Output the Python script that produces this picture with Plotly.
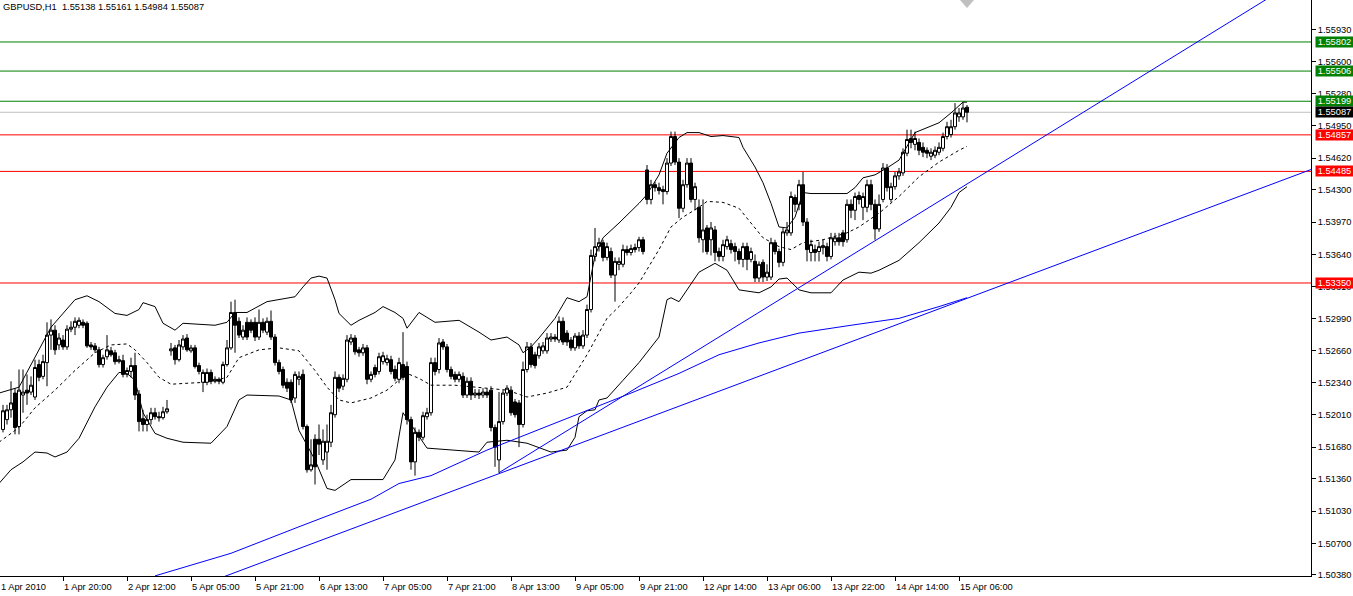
import plotly.graph_objects as go

symbol = "GBPUSD,H1"

# ---- hourly OHLC, one entry per bar (bar index 0 = first visible bar) ----
open_ = [1.5186,1.5196,1.5206,1.5223,1.5189,1.5221,1.5226,1.5224,1.5219,1.5252,
1.5240,1.5254,1.5282,1.5287,1.5272,1.5277,1.5270,1.5288,1.5290,1.5292,
1.5295,1.5294,1.5272,1.5271,1.5267,1.5252,1.5260,1.5266,1.5264,1.5255,
1.5256,1.5242,1.5245,1.5251,1.5222,1.5197,1.5191,1.5196,1.5203,1.5199,
1.5198,1.5204,1.5266,1.5269,1.5257,1.5270,1.5279,1.5266,1.5269,1.5251,
1.5234,1.5234,1.5244,1.5235,1.5237,1.5234,1.5252,1.5269,1.5305,1.5296,
1.5280,1.5295,1.5295,1.5295,1.5280,1.5295,1.5285,1.5296,1.5280,1.5254,
1.5247,1.5234,1.5234,1.5218,1.5237,1.5242,1.5189,1.5145,1.5176,1.5176,
1.5155,1.5163,1.5173,1.5201,1.5239,1.5230,1.5237,1.5275,1.5279,1.5267,
1.5264,1.5269,1.5237,1.5249,1.5245,1.5255,1.5254,1.5257,1.5247,1.5237,
1.5252,1.5250,1.5196,1.5153,1.5183,1.5178,1.5199,1.5203,1.5254,1.5247,
1.5275,1.5270,1.5247,1.5242,1.5237,1.5240,1.5221,1.5235,1.5221,1.5223,
1.5221,1.5224,1.5226,1.5188,1.5155,1.5194,1.5223,1.5226,1.5214,1.5213,
1.5191,1.5247,1.5270,1.5262,1.5261,1.5266,1.5266,1.5278,1.5280,1.5277,
1.5296,1.5284,1.5277,1.5269,1.5281,1.5271,1.5282,1.5308,1.5362,1.5372,
1.5376,1.5361,1.5367,1.5343,1.5354,1.5354,1.5369,1.5366,1.5371,1.5371,
1.5379,1.5450,1.5420,1.5435,1.5432,1.5430,1.5428,1.5457,1.5484,1.5458,
1.5411,1.5435,1.5457,1.5420,1.5412,1.5379,1.5391,1.5379,1.5389,1.5367,
1.5362,1.5372,1.5375,1.5372,1.5367,1.5359,1.5372,1.5359,1.5357,1.5340,
1.5356,1.5341,1.5341,1.5376,1.5367,1.5356,1.5386,1.5386,1.5422,1.5415,
1.5435,1.5397,1.5366,1.5369,1.5367,1.5371,1.5372,1.5362,1.5377,1.5381,
1.5386,1.5379,1.5415,1.5409,1.5424,1.5412,1.5412,1.5435,1.5415,1.5390,
1.5420,1.5452,1.5420,1.5433,1.5444,1.5447,1.5467,1.5482,1.5476,1.5478,
1.5473,1.5470,1.5464,1.5465,1.5468,1.5472,1.5484,1.5486,1.5494,1.5504,
1.5504,1.55138]
high = [1.5211,1.5211,1.5235,1.5228,1.5247,1.5247,1.5242,1.5240,1.5257,1.5257,
1.5262,1.5295,1.5298,1.5292,1.5284,1.5282,1.5292,1.5296,1.5300,1.5300,
1.5298,1.5296,1.5275,1.5274,1.5270,1.5262,1.5282,1.5270,1.5267,1.5261,
1.5262,1.5249,1.5259,1.5264,1.5226,1.5206,1.5201,1.5208,1.5208,1.5204,
1.5209,1.5216,1.5274,1.5272,1.5277,1.5282,1.5283,1.5272,1.5272,1.5254,
1.5247,1.5248,1.5247,1.5240,1.5239,1.5255,1.5277,1.5316,1.5318,1.5300,
1.5292,1.5300,1.5298,1.5300,1.5308,1.5299,1.5300,1.5307,1.5283,1.5257,
1.5250,1.5238,1.5237,1.5245,1.5245,1.5247,1.5191,1.5176,1.5181,1.5191,
1.5186,1.5191,1.5211,1.5245,1.5242,1.5242,1.5282,1.5283,1.5282,1.5270,
1.5273,1.5272,1.5245,1.5252,1.5264,1.5265,1.5262,1.5261,1.5251,1.5259,
1.5285,1.5255,1.5199,1.5188,1.5186,1.5204,1.5208,1.5259,1.5259,1.5279,
1.5278,1.5273,1.5250,1.5245,1.5245,1.5244,1.5239,1.5239,1.5227,1.5227,
1.5228,1.5228,1.5230,1.5191,1.5224,1.5226,1.5231,1.5230,1.5217,1.5216,
1.5255,1.5275,1.5274,1.5265,1.5274,1.5275,1.5284,1.5284,1.5283,1.5301,
1.5300,1.5287,1.5280,1.5284,1.5285,1.5287,1.5313,1.5369,1.5391,1.5381,
1.5379,1.5376,1.5371,1.5361,1.5361,1.5374,1.5373,1.5374,1.5375,1.5382,
1.5382,1.5455,1.5440,1.5438,1.5437,1.5434,1.5462,1.5489,1.5489,1.5462,
1.5440,1.5462,1.5462,1.5437,1.5420,1.5420,1.5394,1.5397,1.5393,1.5371,
1.5379,1.5383,1.5379,1.5376,1.5370,1.5376,1.5376,1.5371,1.5364,1.5357,
1.5359,1.5354,1.5381,1.5379,1.5370,1.5391,1.5397,1.5428,1.5425,1.5440,
1.5448,1.5401,1.5379,1.5374,1.5377,1.5379,1.5376,1.5386,1.5386,1.5386,
1.5389,1.5420,1.5420,1.5427,1.5428,1.5427,1.5440,1.5440,1.5420,1.5425,
1.5457,1.5456,1.5437,1.5448,1.5452,1.5472,1.5491,1.5491,1.5489,1.5482,
1.5478,1.5473,1.5472,1.5474,1.5478,1.5488,1.5499,1.5501,1.5518,1.5513,
1.5519,1.55161]
low = [1.5183,1.5191,1.5198,1.5181,1.5181,1.5203,1.5211,1.5221,1.5216,1.5235,
1.5237,1.5230,1.5267,1.5262,1.5267,1.5267,1.5267,1.5285,1.5282,1.5289,
1.5289,1.5269,1.5267,1.5264,1.5249,1.5249,1.5257,1.5260,1.5252,1.5253,
1.5239,1.5239,1.5239,1.5216,1.5184,1.5184,1.5184,1.5191,1.5196,1.5194,
1.5196,1.5202,1.5261,1.5252,1.5255,1.5267,1.5265,1.5264,1.5248,1.5242,
1.5224,1.5231,1.5232,1.5233,1.5232,1.5232,1.5250,1.5267,1.5264,1.5279,
1.5277,1.5277,1.5284,1.5276,1.5277,1.5284,1.5282,1.5277,1.5251,1.5242,
1.5228,1.5224,1.5213,1.5213,1.5231,1.5186,1.5142,1.5143,1.5130,1.5160,
1.5150,1.5145,1.5168,1.5198,1.5224,1.5226,1.5234,1.5272,1.5262,1.5260,
1.5261,1.5232,1.5234,1.5239,1.5242,1.5252,1.5251,1.5242,1.5235,1.5233,
1.5236,1.5191,1.5145,1.5139,1.5174,1.5175,1.5196,1.5200,1.5241,1.5243,
1.5267,1.5244,1.5237,1.5234,1.5234,1.5218,1.5218,1.5216,1.5218,1.5217,
1.5218,1.5218,1.5184,1.5148,1.5142,1.5191,1.5220,1.5200,1.5198,1.5168,
1.5188,1.5244,1.5249,1.5248,1.5258,1.5263,1.5263,1.5275,1.5275,1.5274,
1.5272,1.5271,1.5266,1.5266,1.5268,1.5268,1.5279,1.5305,1.5357,1.5367,
1.5357,1.5358,1.5340,1.5316,1.5348,1.5351,1.5363,1.5363,1.5366,1.5367,
1.5364,1.5415,1.5415,1.5428,1.5425,1.5415,1.5425,1.5454,1.5455,1.5401,
1.5407,1.5432,1.5417,1.5409,1.5376,1.5366,1.5364,1.5363,1.5357,1.5357,
1.5357,1.5369,1.5365,1.5357,1.5354,1.5351,1.5348,1.5356,1.5336,1.5336,
1.5336,1.5337,1.5338,1.5364,1.5351,1.5352,1.5383,1.5383,1.5407,1.5409,
1.5393,1.5357,1.5357,1.5357,1.5357,1.5364,1.5357,1.5359,1.5373,1.5373,
1.5372,1.5376,1.5401,1.5399,1.5415,1.5399,1.5407,1.5409,1.5379,1.5387,
1.5417,1.5428,1.5417,1.5430,1.5440,1.5444,1.5464,1.5472,1.5470,1.5465,
1.5463,1.5462,1.5460,1.5462,1.5465,1.5469,1.5481,1.5483,1.5491,1.5499,
1.5501,1.54984]
close = [1.5205,1.5206,1.5213,1.5188,1.5226,1.5224,1.5223,1.5231,1.5249,1.5239,
1.5255,1.5282,1.5287,1.5267,1.5279,1.5270,1.5288,1.5290,1.5296,1.5297,
1.5292,1.5271,1.5270,1.5267,1.5252,1.5259,1.5267,1.5262,1.5255,1.5257,
1.5242,1.5246,1.5251,1.5221,1.5194,1.5191,1.5196,1.5203,1.5199,1.5198,
1.5204,1.5207,1.5268,1.5257,1.5272,1.5278,1.5267,1.5269,1.5250,1.5245,
1.5244,1.5244,1.5235,1.5237,1.5235,1.5252,1.5269,1.5305,1.5292,1.5282,
1.5287,1.5280,1.5287,1.5280,1.5295,1.5287,1.5296,1.5280,1.5254,1.5245,
1.5231,1.5228,1.5216,1.5242,1.5240,1.5189,1.5145,1.5150,1.5148,1.5171,
1.5174,1.5174,1.5203,1.5239,1.5228,1.5238,1.5277,1.5279,1.5265,1.5264,
1.5269,1.5237,1.5242,1.5242,1.5260,1.5261,1.5258,1.5245,1.5238,1.5254,
1.5239,1.5196,1.5153,1.5183,1.5178,1.5200,1.5203,1.5254,1.5245,1.5274,
1.5270,1.5247,1.5240,1.5237,1.5242,1.5221,1.5235,1.5221,1.5223,1.5221,
1.5224,1.5221,1.5188,1.5168,1.5194,1.5223,1.5228,1.5203,1.5201,1.5191,
1.5247,1.5270,1.5252,1.5251,1.5270,1.5271,1.5279,1.5280,1.5278,1.5296,
1.5275,1.5275,1.5269,1.5281,1.5271,1.5282,1.5308,1.5363,1.5372,1.5376,
1.5361,1.5372,1.5343,1.5357,1.5357,1.5369,1.5366,1.5370,1.5369,1.5379,
1.5367,1.5420,1.5435,1.5432,1.5429,1.5428,1.5457,1.5484,1.5458,1.5411,
1.5435,1.5457,1.5420,1.5433,1.5381,1.5389,1.5367,1.5391,1.5366,1.5362,
1.5374,1.5379,1.5369,1.5367,1.5359,1.5372,1.5359,1.5367,1.5340,1.5354,
1.5341,1.5346,1.5376,1.5367,1.5356,1.5387,1.5389,1.5423,1.5415,1.5435,
1.5397,1.5369,1.5374,1.5366,1.5372,1.5373,1.5362,1.5381,1.5381,1.5377,
1.5377,1.5415,1.5409,1.5423,1.5420,1.5423,1.5435,1.5415,1.5390,1.5415,
1.5452,1.5432,1.5433,1.5444,1.5448,1.5468,1.5481,1.5478,1.5482,1.5470,
1.5468,1.5467,1.5468,1.5470,1.5473,1.5484,1.5494,1.5494,1.5508,1.5508,
1.5513,1.55087]

# ---- Bollinger bands, read at sample bars ----
upper_bar = [-1,4,12,18,21,24,28,31,34,35,38,40,43,45,53,56,58,61,66,73,75,77,79,81,83,84,87,89,93,95,98,100,101,104,108,114,119,122,126,129,130,132,134,138,141,144,146,148,150,154,159,161,164,166,169,171,174,177,180,184,185,188,190,192,194,196,198,200,202,211,213,215,218,221,224,228,231,234,237,240,241]
upper_val = [1.5223,1.5229,1.5290,1.5318,1.5322,1.5316,1.5304,1.5302,1.5308,1.5315,1.5311,1.5294,1.5287,1.5294,1.5292,1.5295,1.5305,1.5305,1.5316,1.5321,1.5331,1.5340,1.5342,1.5340,1.5318,1.5304,1.5292,1.5297,1.5305,1.5311,1.5305,1.5299,1.5289,1.5305,1.5295,1.5297,1.5285,1.5277,1.5280,1.5272,1.5264,1.5270,1.5279,1.5299,1.5320,1.5316,1.5321,1.5363,1.5381,1.5396,1.5416,1.5425,1.5445,1.5467,1.5483,1.5488,1.5488,1.5484,1.5485,1.5483,1.5473,1.5453,1.5437,1.5416,1.5392,1.5391,1.5402,1.5427,1.5426,1.5426,1.5432,1.5442,1.5445,1.5452,1.5460,1.5488,1.5493,1.5498,1.5508,1.5519,1.5519]
middle_bar = [-1,4,8,13,18,23,27,31,33,36,39,42,46,51,56,59,64,69,74,78,81,84,87,92,96,101,104,107,113,119,126,131,136,141,146,151,154,157,159,164,167,170,174,176,180,184,187,190,194,197,200,205,211,214,219,224,229,234,239,241]
middle_val = [1.5173,1.5188,1.5208,1.5226,1.5246,1.5264,1.5272,1.5273,1.5267,1.5254,1.5239,1.5232,1.5233,1.5234,1.5239,1.5259,1.5267,1.5269,1.5266,1.5246,1.5229,1.5216,1.5213,1.5218,1.5226,1.5243,1.5238,1.5231,1.5231,1.5229,1.5226,1.5219,1.5223,1.5229,1.5262,1.5299,1.5311,1.5325,1.5335,1.5369,1.5392,1.5402,1.5412,1.5418,1.5417,1.5411,1.5396,1.5381,1.5372,1.5369,1.5376,1.5379,1.5386,1.5392,1.5406,1.5423,1.5443,1.5458,1.5470,1.5474]
lower_bar = [-1,2,5,8,11,13,16,19,23,26,29,31,33,35,38,41,45,52,56,59,61,69,72,74,78,81,83,87,95,98,100,102,106,119,121,126,131,137,141,143,144,146,148,149,151,155,159,164,166,167,169,174,178,181,184,189,192,194,196,199,202,207,210,214,217,219,224,229,234,237,239,241]
lower_val = [1.5131,1.5145,1.5153,1.5163,1.5162,1.5158,1.5163,1.5177,1.5209,1.5229,1.5244,1.5243,1.5236,1.5203,1.5182,1.5177,1.5173,1.5172,1.5189,1.5216,1.5221,1.5220,1.5216,1.5185,1.5155,1.5126,1.5124,1.5135,1.5135,1.5155,1.5203,1.5191,1.5167,1.5163,1.5173,1.5175,1.5172,1.5163,1.5165,1.5178,1.5199,1.5205,1.5206,1.5216,1.5218,1.5236,1.5254,1.5280,1.5318,1.5320,1.5316,1.5346,1.5355,1.5348,1.5328,1.5325,1.5331,1.5339,1.5340,1.5328,1.5325,1.5325,1.5338,1.5346,1.5345,1.5348,1.5358,1.5376,1.5396,1.5412,1.5427,1.5433]

# ---- long moving average (blue) ----
ma_bar = [38,57,74,92,99,107,121,134,145,157,169,179,189,199,212,224,234,241]
ma_val = [1.5037,1.5060,1.5087,1.5115,1.5131,1.5139,1.5165,1.5186,1.5203,1.5223,1.5243,1.5262,1.5274,1.5284,1.5292,1.5299,1.5311,1.5320]

# ---- trendlines (two anchors each) ----
trend_a_bar = [124, 320]
trend_a_val = [1.5142, 1.5634]
trend_b_bar = [40, 330]
trend_b_val = [1.5013, 1.5455]

# ---- horizontal levels ----
levels = [1.55802, 1.55506, 1.55199, 1.54857, 1.54485, 1.53350]
level_colors = ["#008000", "#008000", "#008000", "#FF0000", "#FF0000", "#FF0000"]

# ---- axes ----
x_range = [-0.75, 327]
y_range = [1.50369, 1.56229]
time_label_bars = [-1, 15, 31, 47, 63, 79, 95, 111, 127, 143, 159, 175, 191, 207, 223, 239]
time_labels = ["1 Apr 2010", "1 Apr 20:00", "2 Apr 12:00", "5 Apr 05:00", "5 Apr 21:00",
               "6 Apr 13:00", "7 Apr 05:00", "7 Apr 21:00", "8 Apr 13:00", "9 Apr 05:00",
               "9 Apr 21:00", "12 Apr 14:00", "13 Apr 06:00", "13 Apr 22:00", "14 Apr 14:00",
               "15 Apr 06:00"]
price_ticks = [1.55930, 1.55600, 1.55280, 1.54950, 1.54620, 1.54300, 1.53970, 1.53640, 1.53310,
               1.52990, 1.52660, 1.52340, 1.52010, 1.51680, 1.51360, 1.51030, 1.50700, 1.50380]

FONT = "Liberation Sans"
FS = 9.3
bars = list(range(len(open_)))

fig = go.Figure()
fig.add_trace(go.Candlestick(
    x=bars, open=open_, high=high, low=low, close=close,
    increasing=dict(line=dict(color="black", width=1), fillcolor="white"),
    decreasing=dict(line=dict(color="black", width=1), fillcolor="black"),
    whiskerwidth=0, hoverinfo="skip"))

band_line = dict(color="black", width=1)
fig.add_trace(go.Scatter(x=upper_bar, y=upper_val, mode="lines", line=band_line, hoverinfo="skip"))
fig.add_trace(go.Scatter(x=lower_bar, y=lower_val, mode="lines", line=band_line, hoverinfo="skip"))
fig.add_trace(go.Scatter(x=middle_bar, y=middle_val, mode="lines",
                         line=dict(color="black", width=1, dash="3px,3px"), hoverinfo="skip"))
blue = dict(color="#0000FF", width=1)
fig.add_trace(go.Scatter(x=ma_bar, y=ma_val, mode="lines", line=blue, hoverinfo="skip"))
fig.add_trace(go.Scatter(x=trend_a_bar, y=trend_a_val, mode="lines", line=blue, hoverinfo="skip"))
fig.add_trace(go.Scatter(x=trend_b_bar, y=trend_b_val, mode="lines", line=blue, hoverinfo="skip"))

shapes = []
annotations = []
box_style = dict(xref="paper", x=1, xanchor="left", xshift=4, yref="y", yanchor="middle",
                 showarrow=False, borderpad=0, width=37, height=10, align="center",
                 font=dict(family=FONT, size=FS, color="white"))
for lv, col in zip(levels, level_colors):
    shapes.append(dict(type="line", xref="paper", x0=0, x1=1, yref="y", y0=lv, y1=lv,
                       line=dict(color=col, width=1), layer="below"))
    annotations.append(dict(box_style, y=lv, text=f"{lv:.5f}", bgcolor=col))
bid = close[-1]
shapes.append(dict(type="line", xref="paper", x0=0, x1=1, yref="y", y0=bid, y1=bid,
                   line=dict(color="#C0C0C0", width=1), layer="below"))
annotations.append(dict(box_style, y=bid, text=f"{bid:.5f}", bgcolor="black"))

# chart shift marker above the last bar
shapes.append(dict(type="path", xref="x", xsizemode="pixel", xanchor=bars[-1],
                   yref="paper", ysizemode="pixel", yanchor=1,
                   path="M -7 0 L 7 0 L 0 -8 Z", fillcolor="#C0C0C0",
                   line=dict(color="#C0C0C0", width=0)))

for b, t in zip(time_label_bars, time_labels):
    annotations.append(dict(xref="x", x=max(b, x_range[0]), xanchor="left", xshift=-1,
                            yref="paper", y=0, yanchor="top", yshift=-4, text=t,
                            showarrow=False, font=dict(family=FONT, size=FS, color="black")))

title = f"{symbol}\u00a0 {open_[-1]:.5f} {high[-1]:.5f} {low[-1]:.5f} {close[-1]:.5f}"
annotations.append(dict(xref="paper", x=0, xanchor="left", xshift=1, yref="paper", y=1,
                        yanchor="top", yshift=0, text=title, showarrow=False,
                        font=dict(family=FONT, size=FS, color="black")))

fig.update_layout(
    width=1353, height=596,
    margin=dict(l=0, r=42, t=0, b=20, pad=0, autoexpand=False),
    paper_bgcolor="white", plot_bgcolor="white",
    showlegend=False, boxgap=0.25, boxgroupgap=0,
    shapes=shapes, annotations=annotations,
    xaxis=dict(range=x_range, showgrid=False, zeroline=False, showline=True,
               linecolor="black", linewidth=1, ticks="outside", ticklen=4, tickcolor="black",
               tickvals=time_label_bars, showticklabels=False,
               rangeslider=dict(visible=False), fixedrange=True),
    yaxis=dict(range=y_range, side="right", showgrid=False, zeroline=False,
               showline=True, linecolor="black", linewidth=1, ticks="outside", ticklen=4,
               tickcolor="black", tickvals=price_ticks,
               ticktext=[f"{v:.5f}" for v in price_ticks],
               tickfont=dict(family=FONT, size=FS, color="black"), fixedrange=True),
)

fig.write_html("out.html", config={"displayModeBar": False},
               post_script="document.body.style.margin='0';document.body.style.overflow='hidden';")
